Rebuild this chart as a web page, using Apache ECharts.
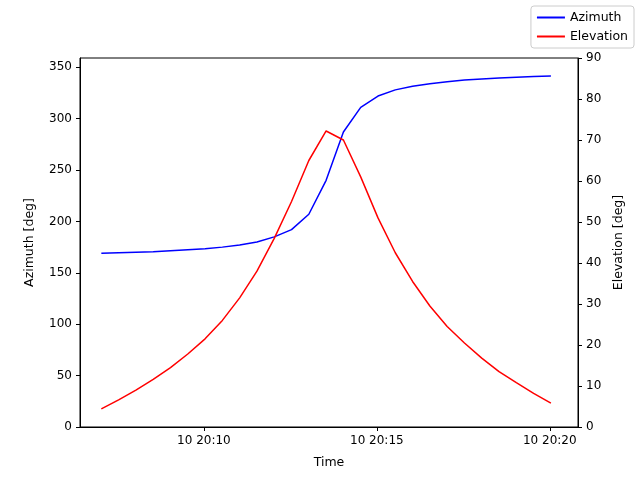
<!DOCTYPE html>
<html><head><meta charset="utf-8">
<script src="https://cdn.jsdelivr.net/npm/echarts@6/dist/echarts.min.js"></script>
<style>html,body{margin:0}#c{width:640px;height:480px}</style></head>
<body><div id="c"></div>
<script>
// seconds since 20:00:00
const startSec = 422, stepSec = 30;
const azimuth = [169,169.5,170,170.5,171.5,172.5,173.5,175,177,180,185,192,207,240,287,311,322,328,331.5,334,336,337.5,338.5,339.5,340.3,341,341.5];
const elevation = [4.4,6.6,9,11.6,14.5,17.8,21.5,26,31.5,38,46,55,65,72.2,70,61,51,42.5,35.5,29.5,24.5,20.5,16.8,13.5,10.8,8.2,5.8];
const tickSecs = [600,900,1200];
const times = azimuth.map((_,i)=>startSec+i*stepSec);
function fmt(s){const m=Math.floor(s/60);return '10 20:'+String(m).padStart(2,'0');}
const font = 'DejaVu Sans';
const chart = echarts.init(document.getElementById('c'));
chart.setOption({
  animation:false,
  textStyle:{fontFamily:font},
  grid:{left:80,right:62,top:58,bottom:53,show:true,borderColor:'#000',borderWidth:1,backgroundColor:'transparent'},
  legend:{right:6,top:6,orient:'vertical',itemWidth:28,itemHeight:2,itemGap:6,
    backgroundColor:'#fff',borderColor:'#ccc',borderWidth:1,borderRadius:3,padding:[5,6],
    textStyle:{fontSize:12.5,color:'#000',fontFamily:font},
    data:[{name:'Azimuth',icon:'rect'},{name:'Elevation',icon:'rect'}]},
  xAxis:{type:'value',min:385,max:1249,name:'Time',nameLocation:'middle',nameGap:29,
    nameTextStyle:{fontSize:12.5,color:'#000'},
    splitLine:{show:false},
    axisLine:{lineStyle:{color:'#000'}},
    axisTick:{customValues:tickSecs,lineStyle:{color:'#000'},length:4},
    axisLabel:{customValues:tickSecs,formatter:fmt,color:'#000',fontSize:12}},
  yAxis:[
    {type:'value',min:0,max:359,interval:50,name:'Azimuth [deg]',nameLocation:'middle',nameGap:44,
      nameTextStyle:{fontSize:12.5,color:'#000'},splitLine:{show:false},
      axisLine:{show:true,lineStyle:{color:'#000'}},axisTick:{show:true,length:4},
      axisLabel:{color:'#000',fontSize:12,showMaxLabel:false}},
    {type:'value',min:0,max:90,interval:10,name:'Elevation [deg]',nameLocation:'middle',nameGap:32,
      nameRotate:90,
      nameTextStyle:{fontSize:12.5,color:'#000'},splitLine:{show:false},
      axisLine:{show:true,lineStyle:{color:'#000'}},axisTick:{show:true,length:4},
      axisLabel:{color:'#000',fontSize:12}}
  ],
  series:[
    {name:'Azimuth',type:'line',yAxisIndex:0,showSymbol:false,color:'#0000ff',lineStyle:{width:1.5},
      data:times.map((t,i)=>[t,azimuth[i]])},
    {name:'Elevation',type:'line',yAxisIndex:1,showSymbol:false,color:'#ff0000',lineStyle:{width:1.5},
      data:times.map((t,i)=>[t,elevation[i]])}
  ]
});
</script></body></html>
